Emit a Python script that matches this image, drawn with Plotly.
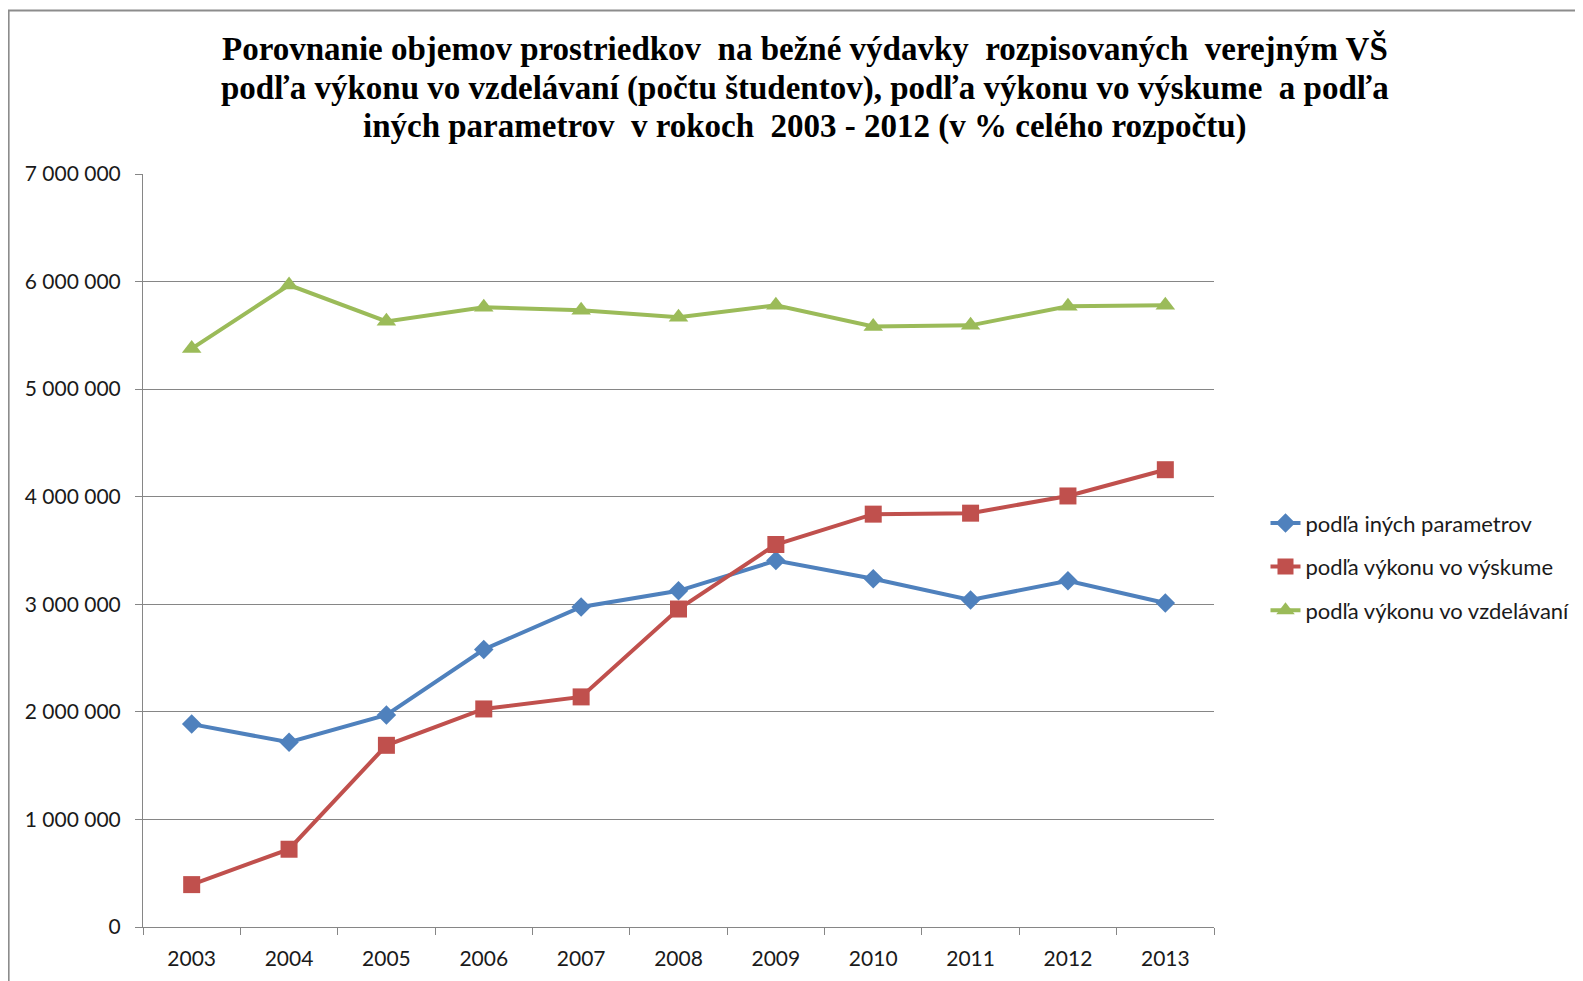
import plotly.graph_objects as go

years = ["2003", "2004", "2005", "2006", "2007", "2008", "2009", "2010", "2011", "2012", "2013"]
ine_parametre = [1886000, 1717000, 1971000, 2580000, 2975000, 3125000, 3406000, 3237000, 3040000, 3219000, 3012000]
vyskum = [394000, 723000, 1689000, 2027000, 2139000, 2956000, 3556000, 3838000, 3847000, 4007000, 4251000]
vzdelavanie = [5377000, 5968000, 5630000, 5761000, 5733000, 5668000, 5780000, 5583000, 5593000, 5771000, 5780000]

names = ["podľa iných parametrov", "podľa výkonu vo výskume", "podľa výkonu vo vzdelávaní"]
colors = ["#4F81BD", "#C0504D", "#9BBB59"]
symbols = ["diamond", "square", "triangle-up"]
msizes = [15, 17, 17]
series = [ine_parametre, vyskum, vzdelavanie]

title_lines = [
    "Porovnanie objemov prostriedkov  na bežné výdavky  rozpisovaných  verejným VŠ",
    "podľa výkonu vo vzdelávaní (počtu študentov), podľa výkonu vo výskume  a podľa",
    "iných parametrov  v rokoch  2003 - 2012 (v % celého rozpočtu)",
]

OFF = 8  # page body margin
W, H = 1583 - OFF, 981 - OFF
L, R, T, B = 143.4 - OFF, 1214.5 - OFF, 173.6 - OFF, 927.0 - OFF

fig = go.Figure()
for s, n, c, sym, ms in zip(series, names, colors, symbols, msizes):
    fig.add_trace(go.Scatter(
        x=years, y=s, name=n, mode="lines+markers",
        line=dict(color=c, width=4),
        marker=dict(symbol=sym, size=ms, color=c),
        legendgroup=n,
    ))

def px2x(px):
    return (px - OFF - L) / (R - L)

def py2y(py):
    return (B - (py - OFF)) / (B - T)

fig.add_shape(type="rect", xref="paper", yref="paper",
              x0=px2x(9), x1=px2x(1640), y0=py2y(1020), y1=py2y(10),
              line=dict(color="#8c8c8c", width=2), layer="below")

for line, yc in zip(title_lines, [48.5, 88, 126]):
    fig.add_annotation(text="<b>" + line + "</b>", xref="paper", yref="paper",
                       x=px2x(805), y=py2y(yc), xanchor="center", yanchor="middle",
                       showarrow=False,
                       font=dict(family="Liberation Serif", size=33, color="black"))

fig.update_layout(
    width=W, height=H,
    margin=dict(l=L, r=W - R, t=T, b=H - B, autoexpand=False),
    paper_bgcolor="white", plot_bgcolor="white",
    separators=". ",
    font=dict(family="Lato", size=21, color="#1a1a1a"),
    legend=dict(x=px2x(1266), xanchor="left", y=py2y(566.5), yanchor="middle",
                font=dict(family="Lato", size=22, color="#1a1a1a"),
                traceorder="grouped", tracegroupgap=12, bgcolor="rgba(0,0,0,0)"),
    xaxis=dict(type="category", range=[-0.5, 10.5], showgrid=False,
               showline=True, linecolor="#868686", linewidth=1,
               ticks="outside", tickson="boundaries", ticklen=7, tickcolor="#868686",
               ticklabelstandoff=13,
               tickfont=dict(family="Lato", size=21, color="#1a1a1a")),
    yaxis=dict(range=[0, 7000000], dtick=1000000, tickformat=",d",
               showgrid=True, gridcolor="#868686", gridwidth=1,
               showline=True, linecolor="#868686", linewidth=1,
               ticks="outside", ticklen=7, tickcolor="#868686", zeroline=False,
               ticklabelstandoff=10,
               tickfont=dict(family="Lato", size=21, color="#1a1a1a")),
)

fig.write_html("out.html")
